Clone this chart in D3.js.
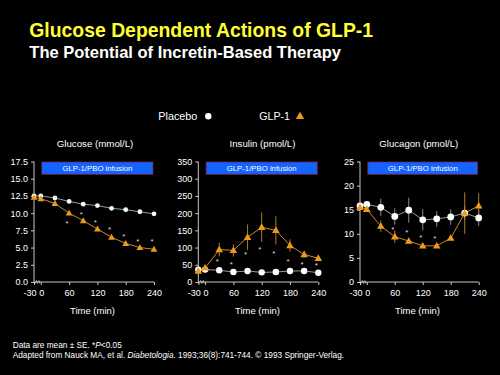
<!DOCTYPE html>
<html><head><meta charset="utf-8">
<script src="https://cdn.jsdelivr.net/npm/d3@7"></script>
<style>
html,body{margin:0;padding:0;background:#000;}
svg{display:block;font-family:"Liberation Sans",Arial,sans-serif;}
</style></head>
<body><svg id="c" width="500" height="375"></svg>
<script>
// ---------- data ----------
const times = [-30, 0, 30, 60, 90, 120, 150, 180, 210, 240];
const xTicks = [-30, 0, 60, 120, 180, 240];

const glucosePlacebo   = [12.5, 12.5, 12.2, 11.7, 11.3, 11.1, 10.7, 10.5, 10.2, 9.9];
const glucosePlaceboSE = [0.2, 0.2, 0.2, 0.2, 0.2, 0.2, 0.2, 0.2, 0.2, 0.2];
const glucoseGLP1      = [12.3, 12.1, 11.4, 10.0, 8.9, 7.7, 6.5, 5.6, 5.0, 4.75];
const glucoseGLP1SE    = [0.2, 0.2, 0.2, 0.3, 0.3, 0.3, 0.3, 0.3, 0.3, 0.3];
const glucoseStarTimes = [60, 90, 120, 150, 180, 210, 240];
const glucoseStarVals  = [8.8, 10.1, 8.9, 7.9, 6.9, 6.1, 6.1];
const glucoseTicks     = [0, 2.5, 5, 7.5, 10, 12.5, 15, 17.5];

const insulinPlacebo   = [36, 36, 34, 29, 32, 28, 29, 32, 32, 27];
const insulinPlaceboSE = [3, 3, 3, 3, 3, 3, 3, 3, 3, 3];
const insulinGLP1      = [32, 41, 94, 92, 130, 159, 150, 106, 80, 69];
const insulinGLP1SE    = [4, 5, 20, 18, 37, 43, 41, 18, 10, 5];
const insulinStarTimes = [30, 60, 90, 120, 150, 180, 210, 240];
const insulinStarVals  = [65, 57, 85, 101, 89, 66, 57, 52];
const insulinTicks     = [0, 50, 100, 150, 200, 250, 300, 350];

const glucagonPlacebo   = [15.8, 16.1, 15.5, 13.6, 14.9, 12.9, 13.1, 13.5, 14.3, 13.3];
const glucagonPlaceboSE = [0.6, 0.6, 1.8, 1.7, 2.6, 2.2, 1.6, 1.6, 1.5, 1.7];
const glucagonGLP1      = [15.5, 15.1, 11.6, 9.4, 8.5, 7.5, 7.5, 9.1, 14.3, 15.8];
const glucagonGLP1SE    = [0.5, 0.5, 1.2, 1.3, 0.5, 0.4, 0.4, 0.5, 4.3, 2.6];
const glucagonStarTimes = [60, 90, 120, 150];
const glucagonStarVals  = [11.3, 10.6, 9.7, 9.5];
const glucagonTicks     = [0, 5, 10, 15, 20, 25];

const panelTitles = ["Glucose (mmol/L)", "Insulin (pmol/L)", "Glucagon (pmol/L)"];
const xLabel = "Time (min)";
const infusionLabel = "GLP-1/PBO infusion";
const legendLabels = ["Placebo", "GLP-1"];

// ---------- layout ----------
const svg = d3.select("#c");
svg.append("rect").attr("width", 500).attr("height", 375).attr("fill", "#000");

function fit(sel, w) {
  const fs = parseFloat(sel.attr("font-size"));
  const len = sel.node().getComputedTextLength();
  sel.attr("font-size", (fs * w / len).toFixed(2));
  return sel;
}

const ORANGE = "#ec9a1c";
const ORANGE_LINE = "#c98a2a";
const GREY_LINE = "#9a9a9a";
const AXIS = "#c8c8c8";
const Y0 = 282, Y1 = 161.5;

fit(svg.append("text").attr("x", 29.3).attr("y", 36.7).attr("font-size", 18)
  .attr("font-weight", "bold").attr("fill", "#ffff33")
  .text("Glucose Dependent Actions of GLP-1"), 344);
fit(svg.append("text").attr("x", 29.3).attr("y", 57.7).attr("font-size", 14)
  .attr("font-weight", "bold").attr("fill", "#ffffff")
  .text("The Potential of Incretin-Based Therapy"), 312);

// legend
fit(svg.append("text").attr("x", 158.3).attr("y", 120).attr("font-size", 11)
  .attr("fill", "#fff").text(legendLabels[0]), 39);
svg.append("circle").attr("cx", 208.3).attr("cy", 116.2).attr("r", 3.2).attr("fill", "#fff");
fit(svg.append("text").attr("x", 259.3).attr("y", 120).attr("font-size", 11)
  .attr("fill", "#fff").text(legendLabels[1]), 30.7);
svg.append("path").attr("d", d3.symbol(d3.symbolTriangle, 30)())
  .attr("transform", "translate(300,116.5)").attr("fill", ORANGE);

const panels = [
  { x0: 34,  xEnd: 154,   max: 17.5, ticks: glucoseTicks, fmt: d3.format(".1f"),
    pl: glucosePlacebo, plSE: glucosePlaceboSE, g: glucoseGLP1, gSE: glucoseGLP1SE,
    st: glucoseStarTimes, sv: glucoseStarVals, r: 2.4, tri: 20, plFill: "#e8ffff",
    titleX: 95, timeX: 92.5 },
  { x0: 198.3, xEnd: 318.3, max: 350, ticks: insulinTicks, fmt: d3.format("d"),
    pl: insulinPlacebo, plSE: insulinPlaceboSE, g: insulinGLP1, gSE: insulinGLP1SE,
    st: insulinStarTimes, sv: insulinStarVals, r: 3.2, tri: 25, plFill: "#ffffff",
    titleX: 262.5, timeX: 257.5 },
  { x0: 360, xEnd: 478.7, max: 25, ticks: glucagonTicks, fmt: d3.format("d"),
    pl: glucagonPlacebo, plSE: glucagonPlaceboSE, g: glucagonGLP1, gSE: glucagonGLP1SE,
    st: glucagonStarTimes, sv: glucagonStarVals, r: 3.4, tri: 25, plFill: "#ffffff",
    titleX: 418.8, timeX: 417.5 }
];

panels.forEach((p, i) => {
  const g = svg.append("g");
  const x = d3.scaleLinear().domain([-30, 0, 240]).range([p.x0, p.x0 + 6.8, p.xEnd]);
  const y = d3.scaleLinear().domain([0, p.max]).range([Y0, Y1]);

  // panel title
  fit(g.append("text").attr("x", p.titleX).attr("y", 147).attr("text-anchor", "middle")
    .attr("font-size", 10).attr("fill", "#fff").text(panelTitles[i]),
    [76.7, 66, 79][i]);

  // y axis
  const ya = g.append("g").attr("transform", `translate(${p.x0},0)`)
    .call(d3.axisLeft(y).tickValues(p.ticks).tickFormat(p.fmt).tickSize(3).tickPadding(3));
  ya.select(".domain").attr("stroke", AXIS).attr("d", `M0,${Y0}V${Y1}`);
  ya.selectAll(".tick line").attr("stroke", AXIS);
  ya.selectAll(".tick text").attr("fill", "#fff").attr("font-size", 9)
    .attr("font-family", '"Liberation Sans",Arial,sans-serif');

  // x axis
  const xa = g.append("g").attr("transform", `translate(0,${Y0})`)
    .call(d3.axisBottom(x).tickValues(xTicks).tickFormat(d => String(d)).tickSize(3).tickPadding(5));
  xa.select(".domain").attr("stroke", AXIS).attr("d", `M${p.x0},0H${p.xEnd}`);
  xa.selectAll(".tick line").attr("stroke", AXIS);
  xa.selectAll(".tick text").attr("fill", "#fff").attr("font-size", 9)
    .attr("font-family", '"Liberation Sans",Arial,sans-serif')
    .attr("dx", d => d === -30 ? -4.5 : (d === 0 ? 0.5 : 0));
  // axis break mark between -30 and 0
  const bx = (x(-30) + x(0)) / 2;
  g.append("path")
    .attr("d", `M${bx - 2.5},${Y0 + 1.5}l1.5,-3l1,3l1.5,-3l1,3`)
    .attr("fill", "none").attr("stroke", AXIS).attr("stroke-width", 0.8);

  // infusion bar
  const bxl = x(0) + 1, bxr = x(240) - 1;
  g.append("rect").attr("x", bxl).attr("y", Y1 + 0.5).attr("width", bxr - bxl).attr("height", 12.3)
    .attr("fill", "#1463ff").attr("stroke", "#7a2040").attr("stroke-width", 0.8);
  fit(g.append("text").attr("x", (bxl + bxr) / 2).attr("y", Y1 + 9.6).attr("text-anchor", "middle")
    .attr("font-size", 7).attr("fill", "#fff").text(infusionLabel), 70);

  const line = d3.line().x((d, j) => x(times[j])).y(d => y(d));

  // error bars
  const eb = (vals, se, col) => g.append("g").selectAll("line").data(vals).join("line")
    .attr("x1", (d, j) => x(times[j])).attr("x2", (d, j) => x(times[j]))
    .attr("y1", (d, j) => y(d - se[j])).attr("y2", (d, j) => y(d + se[j]))
    .attr("stroke", col).attr("stroke-width", 1);
  eb(p.pl, p.plSE, "#8a8a8a");
  eb(p.g, p.gSE, "#b07a20");

  // lines
  g.append("path").attr("d", line(p.pl)).attr("fill", "none").attr("stroke", GREY_LINE).attr("stroke-width", 1);
  g.append("path").attr("d", line(p.g)).attr("fill", "none").attr("stroke", ORANGE_LINE).attr("stroke-width", 1);

  // markers
  g.append("g").selectAll("circle").data(p.pl).join("circle")
    .attr("cx", (d, j) => x(times[j])).attr("cy", d => y(d)).attr("r", p.r).attr("fill", p.plFill);
  g.append("g").selectAll("path").data(p.g).join("path")
    .attr("d", d3.symbol(d3.symbolTriangle, p.tri)())
    .attr("transform", (d, j) => `translate(${x(times[j])},${y(d) + 0.5})`).attr("fill", ORANGE);

  // significance stars
  g.append("g").selectAll("text").data(p.sv).join("text")
    .attr("x", (d, j) => x(p.st[j]) - 2).attr("y", d => y(d)).attr("dy", "0.55em")
    .attr("text-anchor", "middle").attr("font-size", 8).attr("fill", "#dddddd").text("*");

  // x label
  fit(g.append("text").attr("x", p.timeX).attr("y", 314).attr("text-anchor", "middle")
    .attr("font-size", 10).attr("fill", "#fff").text(xLabel), 45);
});

// footnotes
const f1 = svg.append("text").attr("x", 12.7).attr("y", 348).attr("font-size", 7.5).attr("fill", "#fff");
f1.append("tspan").text("Data are mean \u00b1 SE. *");
f1.append("tspan").attr("font-style", "italic").text("P");
f1.append("tspan").text("<0.05");
fit(f1, 109.3);
const f2 = svg.append("text").attr("x", 12.7).attr("y", 358.3).attr("font-size", 7.5).attr("fill", "#fff");
f2.append("tspan").text("Adapted from Nauck MA, et al. ");
f2.append("tspan").attr("font-style", "italic").text("Diabetologia");
f2.append("tspan").text(". 1993;36(8):741-744. \u00a9 1993 Springer-Verlag.");
fit(f2, 332);
</script></body></html>
